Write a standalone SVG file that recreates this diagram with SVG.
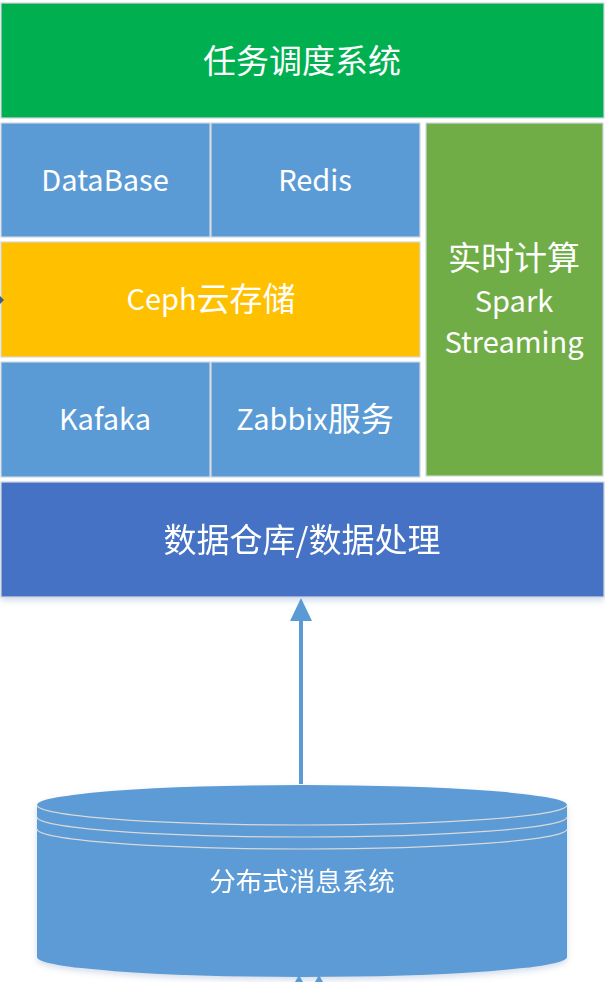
<svg xmlns="http://www.w3.org/2000/svg" width="605" height="982" viewBox="0 0 605 982">
<defs>
<style>
.box{stroke:#D0D7E0;stroke-width:1.2}
.t{fill:#FFFFFF;font-family:"Noto Sans CJK SC","Noto Sans",sans-serif;text-anchor:middle;dominant-baseline:central}
.big{font-size:33px}
.mid{font-size:29px}
.conn{stroke:#5B9BD5;stroke-width:4;fill:none}
.head{fill:#5B9BD5}
</style>
<filter id="sh" x="-5%" y="-5%" width="110%" height="120%">
<feDropShadow dx="0" dy="3" stdDeviation="3" flood-color="#9DB3D0" flood-opacity="0.45"/>
</filter>
</defs>
<rect width="605" height="982" fill="#FFFFFF"/>

<g id="scheduler">
<rect class="box" x="1" y="3" width="603" height="115" fill="#00B050"/>
<text class="t big" x="302" y="59">任务调度系统</text>
</g>

<g id="database">
<rect class="box" x="1" y="123" width="209" height="114" fill="#5B9BD5"/>
<text class="t mid" x="105" y="178">DataBase</text>
</g>
<g id="redis">
<rect class="box" x="211" y="123" width="209" height="114" fill="#5B9BD5"/>
<text class="t mid" x="315" y="178">Redis</text>
</g>
<g id="ceph">
<rect class="box" x="1" y="242" width="419" height="115" fill="#FFC000"/>
<text class="t mid" x="211" y="297">Ceph<tspan font-size="33px">云存储</tspan></text>
</g>
<g id="kafaka">
<rect class="box" x="1" y="362" width="209" height="115" fill="#5B9BD5"/>
<text class="t mid" x="105" y="417">Kafaka</text>
</g>
<g id="zabbix">
<rect class="box" x="211" y="362" width="209" height="115" fill="#5B9BD5"/>
<text class="t mid" x="315" y="417">Zabbix<tspan font-size="33px">服务</tspan></text>
</g>
<g id="spark">
<rect class="box" x="426" y="123" width="177" height="353" fill="#70AD47"/>
<text class="t big" x="514" y="256">实时计算</text>
<text class="t mid" x="514" y="299">Spark</text>
<text class="t mid" x="514" y="340">Streaming</text>
</g>

<g id="warehouse" filter="url(#sh)">
<rect class="box" x="1" y="482" width="603" height="115" fill="#4472C4"/>
<text class="t big" x="302" y="538">数据仓库/数据处理</text>
</g>

<g id="mq" filter="url(#sh)">
<path d="M37,805 A265,20 0 0 1 567,805 L567,957 A265,20 0 0 1 37,957 Z" fill="#5B9BD5"/>
<path d="M37,805 A265,20 0 0 0 567,805 M37,817 A265,20 0 0 0 567,817 M37,829 A265,20 0 0 0 567,829" fill="none" stroke="#D9D9D9" stroke-width="1.2"/>
<text class="t" x="302" y="879" font-size="26.5">分布式消息系统</text>
</g>

<g id="connectors">
<line class="conn" x1="301" y1="784" x2="301" y2="618"/>
<path class="head" d="M301,598 L312,621 L290,621 Z"/>
<path class="head" d="M295,982 L299,975 L303,982 Z"/>
<path class="head" d="M315,982 L319,975 L323,982 Z"/>
<path d="M0,296 L4,300 L0,304 Z" fill="#3B5E8C"/>
</g>
</svg>
